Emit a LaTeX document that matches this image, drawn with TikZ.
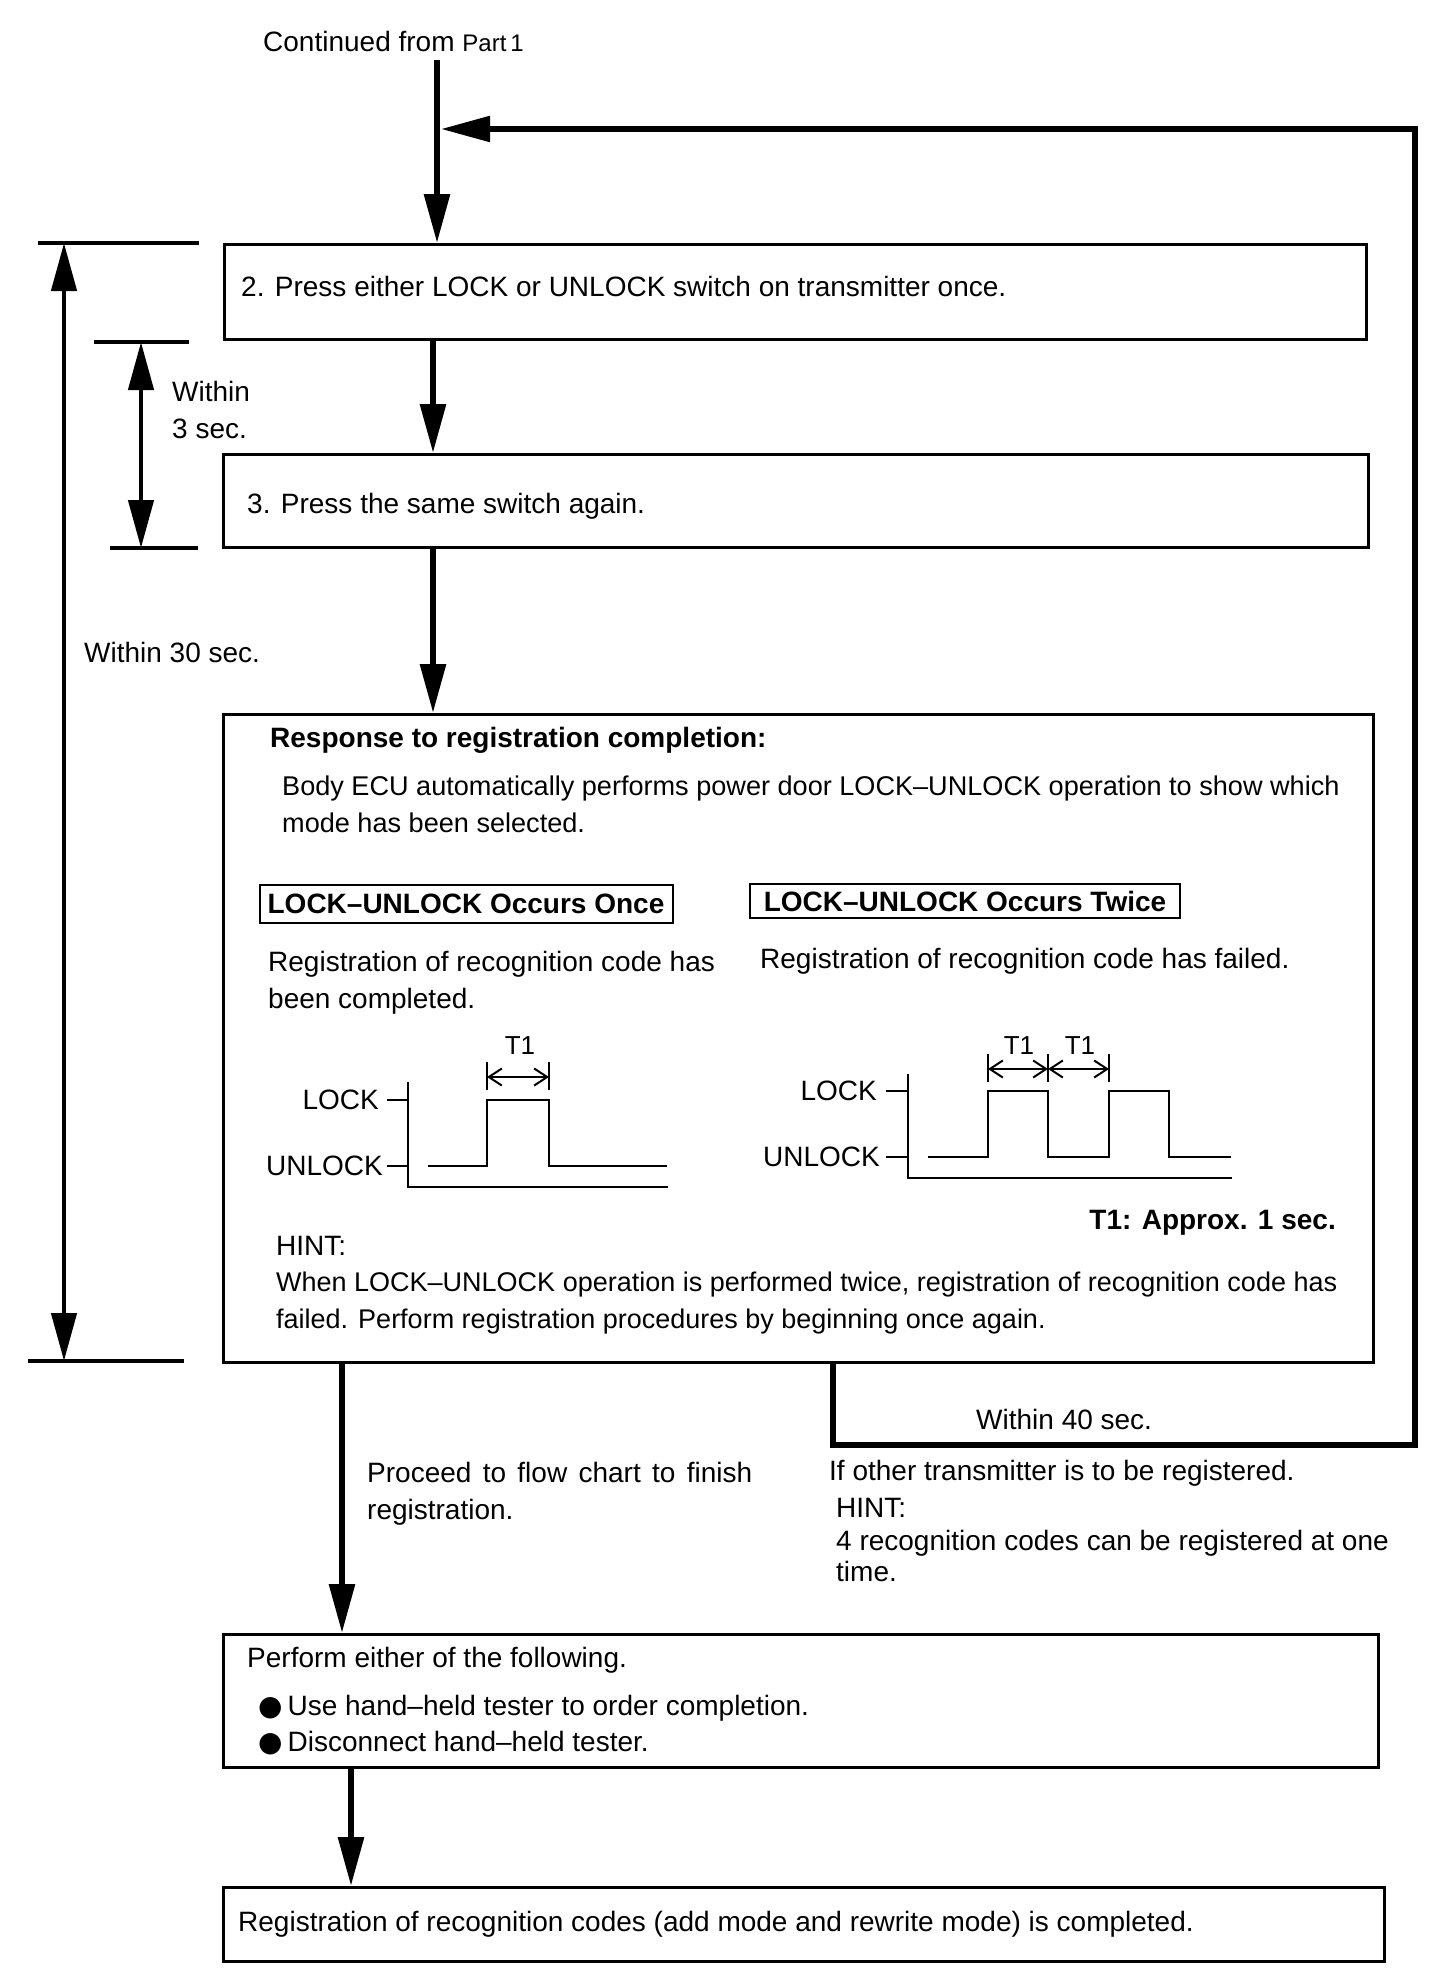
\documentclass[tikz,border=0pt]{standalone}
\usepackage{fontspec}
\setmainfont{Liberation Sans}
\newfontfamily\dotfont{DejaVu Sans}
\usetikzlibrary{arrows.meta}

\begin{document}
\begin{tikzpicture}[
    x=1pt, y=-1pt,
    every node/.style={inner sep=0pt, font=\fontsize{28}{37}\selectfont},
    box/.style={draw, line width=3pt, anchor=north west},
    tag/.style={draw, line width=2pt, font=\fontsize{28}{37}\selectfont\bfseries},
    txt/.style={anchor=base west},
    narrow/.style={font=\fontsize{27.1}{37}\selectfont},
    flow/.style={line width=6pt, -{Triangle[length=49pt,width=25pt]}},
    span/.style={line width=4.5pt, {Triangle[length=48pt,width=25pt]}-{Triangle[length=48pt,width=25pt]}},
    limit/.style={line width=3.5pt},
    wave/.style={line width=2.5pt},
    period/.style={line width=2pt, {Straight Barb[length=13pt,width=17pt]}-{Straight Barb[length=13pt,width=17pt]}}
]
    \useasboundingbox (0,0) rectangle (1456,1986);

    % boxes
    \node[box, minimum width=1142pt, minimum height=95pt]  (step1)  at (223,243) {};
    \node[box, minimum width=1145pt, minimum height=93pt]  (step2)  at (222,453) {};
    \node[box, minimum width=1150pt, minimum height=648pt] (resp)   at (222,713) {};
    \node[box, minimum width=1155pt, minimum height=133pt] (finish) at (222,1633) {};
    \node[box, minimum width=1161pt, minimum height=74pt]  (done)   at (222,1886) {};

    \node[txt] (cont) at (263,51) {Continued from {\fontsize{24}{30}\selectfont Part\,1}};
    \node[txt] (step1txt) at (241,296) {2. Press either LOCK or UNLOCK switch on transmitter once.};
    \node[txt] (step2txt) at (247,513) {3. Press the same switch again.};

    % response box
    \node[txt, font=\fontsize{28}{37}\selectfont\bfseries] (resphead) at (270,747) {Response to registration completion:};
    \node[txt, narrow] (resp1) at (282,795) {Body ECU automatically performs power door LOCK–UNLOCK operation to show which};
    \node[txt, narrow] (resp2) at (282,832) {mode has been selected.};
    \node[tag, minimum width=413pt, minimum height=38pt] (once)  at (466,904) {LOCK–UNLOCK Occurs Once};
    \node[tag, minimum width=430pt, minimum height=34pt] (twice) at (965,901) {LOCK–UNLOCK Occurs Twice};
    \node[txt] (okay1) at (268,971)  {Registration of recognition code has};
    \node[txt] (okay2) at (268,1008) {been completed.};
    \node[txt] (fail1) at (760,968)  {Registration of recognition code has failed.};

    % timing, once
    \draw[wave] (408,1082) -- (408,1187) -- (668,1187);
    \draw[wave] (387,1100) -- (408,1100);
    \draw[wave] (387,1166) -- (408,1166);
    \draw[wave] (428,1166) -- (487,1166) -- (487,1100) -- (549,1100) -- (549,1166) -- (667,1166);
    \draw[wave] (487,1062) -- (487,1090);
    \draw[wave] (549,1062) -- (549,1090);
    \draw[period] (487,1077) -- (549,1077);
    \node[anchor=east] (lock1) at (379,1100) {LOCK};
    \node[anchor=east] (unlock1) at (383,1166) {UNLOCK};
    \node[font=\fontsize{26}{30}\selectfont] (tone) at (520,1046) {T1};

    % timing, twice
    \draw[wave] (908,1074) -- (908,1178) -- (1232,1178);
    \draw[wave] (886,1091) -- (908,1091);
    \draw[wave] (886,1157) -- (908,1157);
    \draw[wave] (928,1157) -- (988,1157) -- (988,1091) -- (1048,1091) -- (1048,1157)
        -- (1109,1157) -- (1109,1091) -- (1169,1091) -- (1169,1157) -- (1231,1157);
    \draw[wave] (988,1054) -- (988,1082);
    \draw[wave] (1048,1054) -- (1048,1082);
    \draw[wave] (1109,1054) -- (1109,1082);
    \draw[period] (988,1069) -- (1048,1069);
    \draw[period] (1048,1069) -- (1109,1069);
    \node[anchor=east] (lock2) at (877,1091) {LOCK};
    \node[anchor=east] (unlock2) at (880,1157) {UNLOCK};
    \node[font=\fontsize{26}{30}\selectfont] (ttwo) at (1019,1046) {T1};
    \node[font=\fontsize{26}{30}\selectfont] (tthree) at (1080,1046) {T1};

    \node[txt, anchor=base east, font=\fontsize{28}{37}\selectfont\bfseries] (tnote) at (1336,1229) {T1: Approx. 1 sec.};
    \node[txt] (hint1) at (276,1255) {HINT:};
    \node[txt, font=\fontsize{27}{37}\selectfont] (hint2) at (276,1291) {When LOCK–UNLOCK operation is performed twice, registration of recognition code has};
    \node[txt, font=\fontsize{27}{37}\selectfont] (hint3) at (276,1328) {failed. Perform registration procedures by beginning once again.};

    % below the response box
    \node[txt] (go1) at (367,1482) {\makebox[385pt][s]{Proceed to flow chart to finish}};
    \node[txt] (go2) at (367,1519) {registration.};
    \node[txt] (w40) at (976,1429) {Within 40 sec.};
    \node[txt] (other) at (829,1480) {If other transmitter is to be registered.};
    \node[txt] (hint4) at (836,1517) {HINT:};
    \node[txt] (hint5) at (836,1550) {4 recognition codes can be registered at one};
    \node[txt] (hint6) at (836,1581) {time.};

    % finish box
    \node[txt] (fin0) at (247,1667) {Perform either of the following.};
    \node[txt] (fin1) at (258,1715) {{\dotfont ●}\kern5pt Use hand–held tester to order completion.};
    \node[txt] (fin2) at (258,1751) {{\dotfont ●}\kern5pt Disconnect hand–held tester.};
    \node[txt] (donetxt) at (238,1931) {Registration of recognition codes (add mode and rewrite mode) is completed.};

    % time spans
    \node[txt] (w30) at (84,662) {Within 30 sec.};
    \node[txt] (w3a) at (172,401) {Within};
    \node[txt] (w3b) at (172,438) {3 sec.};
    \coordinate (s30a) at (38,243);
    \coordinate (s30b) at (199,243);
    \coordinate (s30c) at (28,1361);
    \coordinate (s30d) at (184,1361);
    \coordinate (s30x) at (64,0);
    \coordinate (s3a) at (94,342);
    \coordinate (s3b) at (189,342);
    \coordinate (s3c) at (110,548);
    \coordinate (s3d) at (198,548);
    \coordinate (s3x) at (141,0);
    \draw[limit] (s30a) -- (s30b);
    \draw[limit] (s30c) -- (s30d);
    \draw[limit] (s3a) -- (s3b);
    \draw[limit] (s3c) -- (s3d);
    \draw[span] (s30x |- s30a) -- (s30x |- s30c);
    \draw[span] (s3x |- s3a) -- (s3x |- s3c);

    % flow
    \coordinate (entry) at (437,60);
    \coordinate (col1) at (433,0);
    \coordinate (col2) at (342,0);
    \coordinate (col3) at (351,0);
    \coordinate (back) at (1415,129);
    \coordinate (again) at (833,1445);
    \draw[flow] (entry) -- (entry |- step1.north);
    \draw[flow] (col1 |- step1.south) -- (col1 |- step2.north);
    \draw[flow] (col1 |- step2.south) -- (col1 |- resp.north);
    \draw[flow] (col2 |- resp.south) -- (col2 |- finish.north);
    \draw[flow] (col3 |- finish.south) -- (col3 |- done.north);
    \draw[flow, line width=5.5pt, shorten >=4pt] (again |- resp.south) -- (again) -| (back) -- (entry |- back);
\end{tikzpicture}
\end{document}
